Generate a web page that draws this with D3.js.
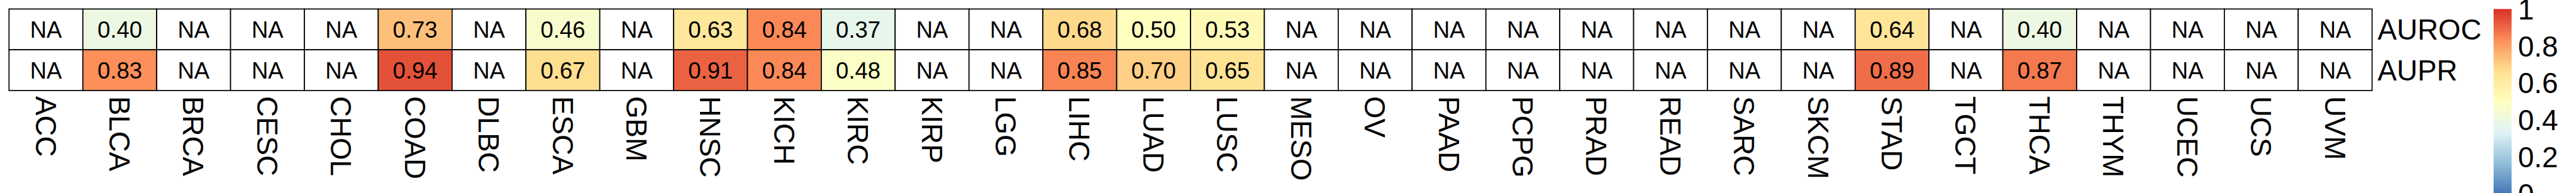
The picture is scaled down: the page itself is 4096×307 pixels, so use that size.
<!DOCTYPE html>
<html>
<head>
<meta charset="utf-8">
<script src="https://cdn.jsdelivr.net/npm/d3@7"></script>
<style>
  html, body { margin: 0; padding: 0; background: #ffffff; }
  svg { display: block; }
  text { font-family: "Liberation Sans", Arial, Helvetica, sans-serif; fill: #000; }
</style>
</head>
<body>
<svg id="chart"></svg>
<script>
// ---- data ----
const categories = ["ACC","BLCA","BRCA","CESC","CHOL","COAD","DLBC","ESCA","GBM","HNSC","KICH","KIRC","KIRP","LGG","LIHC","LUAD","LUSC","MESO","OV","PAAD","PCPG","PRAD","READ","SARC","SKCM","STAD","TGCT","THCA","THYM","UCEC","UCS","UVM"];
const rowNames = ["AUROC","AUPR"];
const aurocValues = [null,0.40,null,null,null,0.73,null,0.46,null,0.63,0.84,0.37,null,null,0.68,0.50,0.53,null,null,null,null,null,null,null,null,0.64,null,0.40,null,null,null,null];
const auprValues  = [null,0.83,null,null,null,0.94,null,0.67,null,0.91,0.84,0.48,null,null,0.85,0.70,0.65,null,null,null,null,null,null,null,null,0.89,null,0.87,null,null,null,null];
const legendTicks = [0, 0.2, 0.4, 0.6, 0.8, 1];
const legendTickLabels = ["0","0.2","0.4","0.6","0.8","1"];
const paletteColors = ["#4575b4","#91bfdb","#e0f3f8","#ffffbf","#fee090","#fc8d59","#d73027"];

// ---- layout (reference px scaled) ----
const W = 4096, H = 307;
const S = W / 6000;

const svg = d3.select("#chart").attr("width", W).attr("height", H);

const x = d3.scaleBand().domain(categories).range([21 * S, 5525 * S]).padding(0);
const y = d3.scaleBand().domain(rowNames).range([21 * S, 211 * S]).padding(0);
const color = d3.scaleLinear()
  .domain(paletteColors.map((_, i) => i / (paletteColors.length - 1)))
  .range(paletteColors)
  .interpolate(d3.interpolateRgb)
  .clamp(true);

const seriesByRow = { "AUROC": aurocValues, "AUPR": auprValues };
const cells = [];
rowNames.forEach(r => {
  categories.forEach((c, i) => cells.push({ row: r, cat: c, v: seriesByRow[r][i] }));
});

const fmt = d3.format(".2f");
const cellFont = 53.5 * S;
const labelFont = 67 * S;
const strokeW = 2.5 * S;

const gCells = svg.append("g");
gCells.selectAll("rect")
  .data(cells)
  .join("rect")
  .attr("x", d => x(d.cat))
  .attr("y", d => y(d.row))
  .attr("width", x.bandwidth())
  .attr("height", y.bandwidth())
  .attr("fill", d => d.v == null ? "#ffffff" : color(d.v))
  .attr("stroke", "#000")
  .attr("stroke-width", strokeW);

gCells.selectAll("text")
  .data(cells)
  .join("text")
  .attr("x", d => x(d.cat) + x.bandwidth() / 2)
  .attr("y", d => y(d.row) + y.bandwidth() / 2)
  .attr("dy", "0.36em")
  .attr("text-anchor", "middle")
  .attr("font-size", cellFont)
  .text(d => d.v == null ? "NA" : fmt(d.v));

// column labels (rotated, reading downward)
const colLabelTop = 224 * S;
svg.append("g").selectAll("text")
  .data(categories)
  .join("text")
  .attr("transform", d => `translate(${x(d) + x.bandwidth() / 2},${colLabelTop}) rotate(90)`)
  .attr("dy", "0.36em")
  .attr("text-anchor", "start")
  .attr("font-size", labelFont)
  .text(d => d);

// row labels
svg.append("g").selectAll("text")
  .data(rowNames)
  .join("text")
  .attr("x", 5538 * S)
  .attr("y", d => y(d) + y.bandwidth() / 2)
  .attr("dy", "0.36em")
  .attr("text-anchor", "start")
  .attr("font-size", labelFont)
  .text(d => d);

// legend color bar
const yL = d3.scaleLinear().domain([0, 1]).range([452 * S, 21 * S]);
const defs = svg.append("defs");
const grad = defs.append("linearGradient")
  .attr("id", "lgrad")
  .attr("x1", 0).attr("y1", 1).attr("x2", 0).attr("y2", 0);
grad.selectAll("stop")
  .data(d3.range(0, 101).map(i => i / 100))
  .join("stop")
  .attr("offset", d => d)
  .attr("stop-color", d => color(d));

svg.append("rect")
  .attr("x", 5808 * S)
  .attr("y", yL(1))
  .attr("width", 42 * S)
  .attr("height", yL(0) - yL(1))
  .attr("fill", "url(#lgrad)");

svg.append("g").selectAll("text")
  .data(legendTicks)
  .join("text")
  .attr("x", 5865 * S)
  .attr("y", d => yL(d))
  .attr("dy", "0.36em")
  .attr("text-anchor", "start")
  .attr("font-size", labelFont)
  .text((d, i) => legendTickLabels[i]);
</script>
</body>
</html>
